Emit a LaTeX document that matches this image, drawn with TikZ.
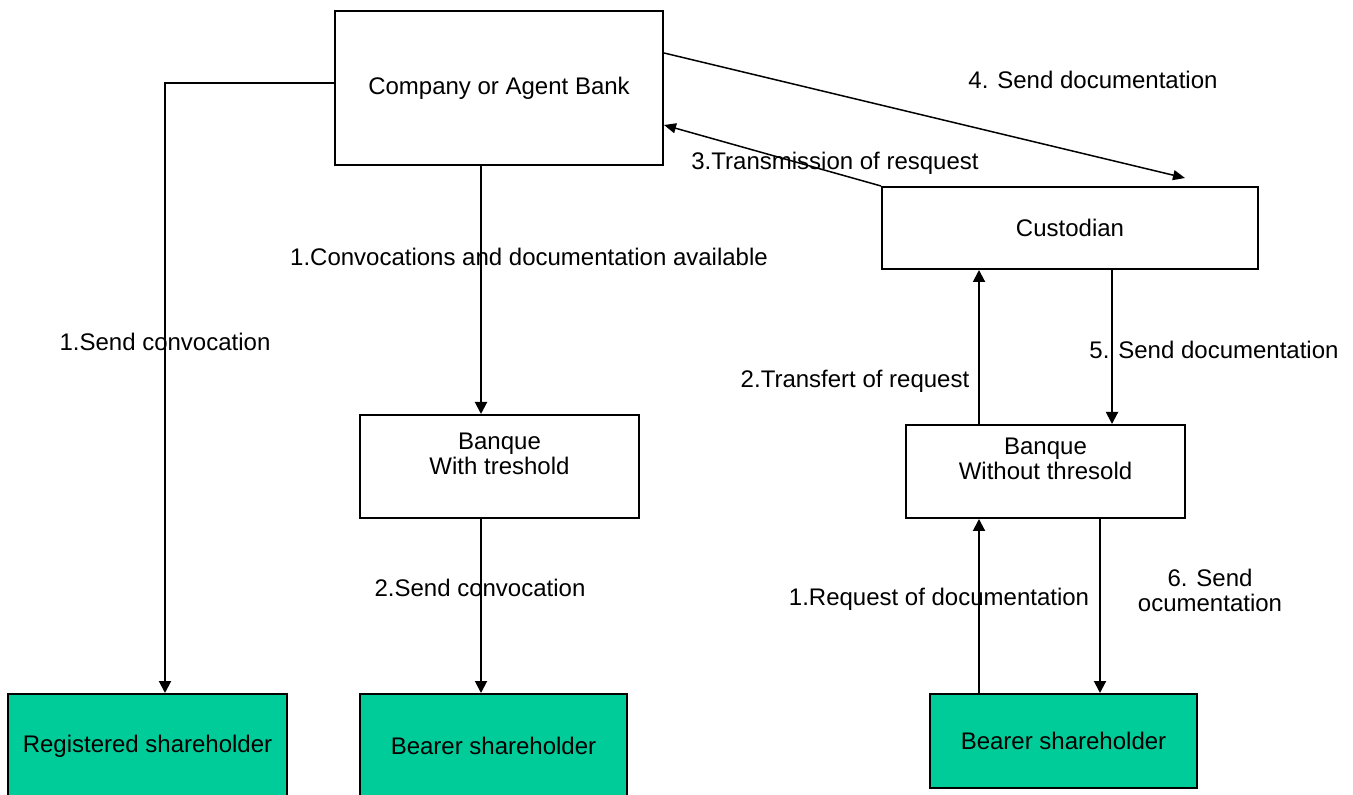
\documentclass[tikz,border=0pt]{standalone}
\usepackage{fontspec}
\setmainfont{Liberation Sans}
\usetikzlibrary{arrows.meta, positioning}

\definecolor{holdergreen}{RGB}{0,204,153}

\begin{document}
\begin{tikzpicture}[
		x=0.5pt, y=-0.5pt,
		every node/.style={font=\fontsize{12}{12.5}\selectfont},
		% Plain box
		box/.style={draw, line width=1pt, inner sep=0pt, align=center},
		% Shareholder box
		holder/.style={box, fill=holdergreen},
		% Standard arrow
		arrow/.style={-{Triangle[length=6pt, width=6pt]}, line width=1pt},
		% Thin diagonal arrow
		thinarrow/.style={-{Triangle[length=6pt, width=5pt]}, line width=0.75pt},
		lbl/.style={inner sep=0pt, align=center}
		]
		\useasboundingbox (0,0) rectangle (1353,795);
		
		% === BOXES ===
		
		\node[box, minimum width=164pt, minimum height=77pt] (company) at (499,88) {Company or Agent Bank};
		\node[box, minimum width=188pt, minimum height=41pt] (custodian) at (1070,228) {Custodian};
		
		% Banks
		\node[box, minimum width=139.5pt, minimum height=51.5pt] (bankwith) at (499.5,466.5) {Banque\\With treshold\\\mbox{}};
		\node[box, minimum width=139.5pt, minimum height=46.5pt] (bankwithout) at (1045.5,471.5) {Banque\\Without thresold\\\mbox{}};
		
		% Shareholders
		\node[holder, minimum width=139.5pt, minimum height=52pt] (registered) at (147.5,746) {Registered shareholder};
		\node[holder, minimum width=133.5pt, minimum height=52pt] (bearermid) at (493.5,746) {Bearer shareholder};
		\node[holder, minimum width=133.5pt, minimum height=47pt] (bearerright) at (1063.5,741) {Bearer shareholder};
		
		% === HELPER COORDINATES ===
		\coordinate (bend) at (165,83);
		\coordinate (colmid) at (481,0);
		\coordinate (colup) at (979,0);
		\coordinate (coldown) at (1112,0);
		\coordinate (coldowntwo) at (1100,0);
		\coordinate (docstart) at (0,53);
		\coordinate (docend) at (1185,178);
		\coordinate (reqend) at (0,125);
		
		% === LEFT SIDE ===
		
		% Company -> registered
		\draw[arrow] (company.west |- bend) -- (bend) -- (bend |- registered.north);
		\node[lbl] (lsendconv) at (165,342) {1.Send convocation};
		
		% Company -> bank with threshold
		\draw[arrow] (company.south -| colmid) -- (bankwith.north -| colmid);
		\node[lbl] (lavail) at (529,257) {1.Convocations and documentation available};
		
		% Bank with threshold -> bearer
		\draw[arrow] (bankwith.south -| colmid) -- (bearermid.north -| colmid);
		\node[lbl] (lsendconvtwo) at (480,588) {2.Send convocation};
		
		% === RIGHT SIDE ===
		
		% Company -> custodian
		\draw[thinarrow] (company.east |- docstart) -- (docend);
		\node[lbl] (lsenddoc) at (1093,80) {4. Send documentation};
		
		% Custodian -> company
		\draw[thinarrow] (custodian.north west) -- (company.east |- reqend);
		\node[lbl] (ltrans) at (835,163) {3.Transmission of resquest};
		
		% Bank without threshold <-> custodian
		\draw[arrow] (bankwithout.north -| colup) -- (custodian.south -| colup);
		\node[lbl] (ltransfert) at (855,381) {2.Transfert of request};
		\draw[arrow] (custodian.south -| coldown) -- (bankwithout.north -| coldown);
		\node[lbl] (lsenddocfive) at (1214,350) {5. Send documentation};
		
		% Bearer <-> bank without threshold
		\draw[arrow] (bearerright.north -| colup) -- (bankwithout.south -| colup);
		\node[lbl] (lrequest) at (939,599) {1.Request of documentation};
		\draw[arrow] (bankwithout.south -| coldowntwo) -- (bearerright.north -| coldowntwo);
		\node[lbl] (lsenddocsix) at (1210,590) {6. Send\\ocumentation};
		
	\end{tikzpicture}
\end{document}
